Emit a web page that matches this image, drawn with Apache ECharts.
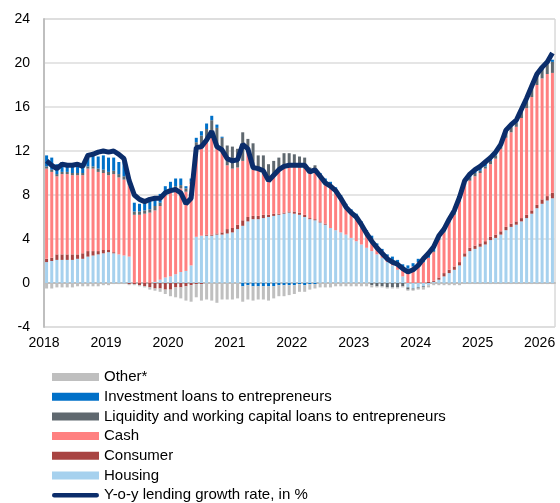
<!DOCTYPE html>
<html>
<head>
<meta charset="utf-8">
<script src="https://cdn.jsdelivr.net/npm/echarts@6/dist/echarts.min.js"></script>
<style>
  html, body { margin: 0; padding: 0; background: #fff; }
  #chart { width: 560px; height: 503px; }
</style>
</head>
<body>
<div id="chart"></div>
<script>
// monthly, 2018-01 .. 2026-03
var years = ['2018', '2019', '2020', '2021', '2022', '2023', '2024', '2025', '2026'];

var housing = [1.9, 2.0, 2.1, 2.1, 2.1, 2.1, 2.2, 2.2, 2.4, 2.5, 2.6, 2.7, 2.8, 2.7, 2.6, 2.5,
  2.4, 0, 0, 0, 0, 0.1, 0.3, 0.5, 0.6, 0.8, 1.0, 1.1, 1.6,
  4.2, 4.3, 4.3, 4.3, 4.4, 4.4, 4.5, 4.6, 4.9, 5.2, 5.6, 5.8, 5.8, 5.9, 6.0, 6.1, 6.2, 6.3, 6.4,
  6.3, 6.2, 6.0, 5.8, 5.7, 5.5, 5.3, 5.0, 4.8, 4.6, 4.4, 4.1, 3.8, 3.5, 3.2, 2.9, 2.6, 2.3, 1.9, 1.6, 1.2, 0.6, -0.4, -0.5, -0.4,
  -0.3, -0.2, 0.1, 0.3, 0.6, 0.9, 1.2, 1.6, 2.4, 2.9, 3.1, 3.3, 3.5, 3.9, 4.1, 4.4, 4.8, 5.1, 5.3, 5.6, 5.9, 6.3, 6.8, 7.2, 7.5, 7.7];

var consumer = [0.3, 0.3, 0.5, 0.5, 0.5, 0.5, 0.4, 0.5, 0.5, 0.4, 0.3, 0.3, 0.2, 0.1,
  0, 0, -0.1, -0.1, -0.2, -0.3, -0.4, -0.5, -0.5, -0.6, -0.6, -0.4, -0.4, -0.3, -0.2,
  -0.1, -0.1, 0.1, 0.1, 0.1, 0.2, 0.4, 0.4, 0.4, 0.5, 0.4, 0.3, 0.3, 0.3, 0.2, 0.2, 0.1, 0.1, 0.1,
  0.2, 0.2, 0.2, 0.1, 0.1, 0.1, 0.1, 0, 0, 0, 0, 0, 0, 0, 0, 0, 0, 0, 0, 0, 0, 0, 0, 0, 0,
  0, 0.1, 0.1, 0.2, 0.3, 0.3, 0.3, 0.3, 0.3, 0.3, 0.3, 0.3, 0.3, 0.3, 0.3, 0.3, 0.3, 0.3, 0.3, 0.3, 0.3, 0.3, 0.3, 0.4, 0.4, 0.5];

var cash = [8.2, 7.8, 7.1, 7.3, 7.3, 7.2, 7.2, 7.1, 7.5, 7.5, 7.2, 7.0, 6.8, 7.1, 7.0, 6.9, 6.5,
  6.2, 6.2, 6.3, 6.4, 6.5, 6.7, 7.5, 7.8, 7.8, 7.6, 7.2, 7.4,
  8.1, 8.2, 8.4, 8.8, 7.8, 7.3, 5.8, 5.4, 5.2, 5.4, 5.9, 4.2, 4.2, 3.9, 3.4, 3.4, 3.9, 4.1, 4.1,
  4.1, 4.1, 4.2, 4.1, 4.4, 4.0, 3.7, 3.7, 3.5, 3.0, 2.5, 2.3, 2.2, 1.8, 1.4, 1.1, 0.8, 0.6, 0.5, 0.5, 0.6, 0.8, 1.3, 1.5, 1.9,
  1.9, 2.2, 2.6, 3.4, 3.7, 4.3, 4.7, 5.5, 6.2, 6.1, 6.3, 6.4, 6.6, 6.6, 6.9, 7.5, 8.1, 8.3, 8.6, 9.1, 9.7, 10.3, 10.9, 11.0, 11.1, 10.9];

var liquidity = [0.2, 0.2, 0.2, 0.2, 0.2, 0.2, 0.2, 0.2, 0.2, 0.2, 0.3, 0.3, 0.3, 0.3, 0.3, 0.3, 0.2,
  0.3, 0.3, 0.3, 0.3, 0.4, 0.3, 0.3, 0.2, 0.2, 0.3, 0.3, 0.2,
  0.5, 0.9, 1.2, 1.6, 1.8, 1.3, 1.8, 2.0, 1.7, 2.6, 1.2, 2.4, 1.3, 1.5, 1.2, 1.4, 1.2, 1.3, 1.2,
  1.1, 1.0, 1.0, 0.5, 0.5, 0.2, 0.2, 0.2, 0.2, 0.2, 0.1, 0.1, 0.1, 0.1, 0, -0.2, -0.3, -0.3, -0.4, -0.4, -0.4, -0.3, -0.2, -0.1, -0.1,
  -0.1, 0, 0.1, 0.1, 0.1, 0.1, 0.2, 0.2, 0.2, 0.3, 0.3, 0.2, 0.2, 0.3, 0.3, 0.2, 0.5, 0.5, 0.4, 0.6, 0.7, 0.8, 0.8, 0.8, 0.9, 1.0];

var investment = [1.0, 1.1, 0.9, 0.9, 0.8, 0.7, 0.8, 0.8, 1.2, 1.0, 1.1, 1.3, 1.3, 1.2, 1.1, 1.3, 0.3,
  0.8, 0.7, 0.6, 0.9, 0.9, 0.8, 0.5, 0.6, 0.7, 0.6, 0.2, 0.3,
  0.4, 0.4, 0.5, 0.4, 0.3, 0.1, 0, 0, 0, -0.3, -0.2, -0.3, -0.3, -0.3, -0.3, -0.3, -0.2, -0.2, -0.2,
  -0.2, -0.1, -0.2, -0.1, -0.1, 0.2, 0.2, 0.3, 0.2, 0.2, 0.2, 0.2, 0.2, 0.2, 0.2, 0.3, 0.2, 0.2, 0.2, 0.3, 0.3, 0.3, 0.3, 0.3, 0.3,
  0.2, 0.3, 0.3, 0.2, 0.1, 0.1, 0.1, 0.1, 0.1, 0.2, 0.2, 0.3, 0.3, 0.2, 0.2, 0.1, 0.1, 0.1, 0.1, 0.1, 0.1, 0.1, 0.1, 0.1, 0.1, 0.2];

var other = [-0.5, -0.5, -0.4, -0.4, -0.4, -0.4, -0.3, -0.3, -0.3, -0.3, -0.3, -0.2, -0.2, -0.1, -0.1, -0.1, -0.1,
  -0.1, -0.1, -0.1, -0.2, -0.2, -0.3, -0.4, -0.6, -0.9, -1.0, -1.3, -1.5,
  -1.2, -1.5, -1.5, -1.6, -1.8, -1.5, -1.5, -1.5, -1.4, -1.4, -1.3, -1.3, -1.2, -1.2, -1.3, -1.1, -1.0, -1.0, -0.9,
  -0.8, -0.7, -0.6, -0.5, -0.4, -0.4, -0.4, -0.4, -0.3, -0.3, -0.3, -0.3, -0.3, -0.3, -0.3, -0.2, -0.1, -0.1, -0.1, -0.1, -0.1, -0.1, -0.1, -0.1, -0.1,
  -0.2, -0.2, -0.2, -0.2, -0.2, -0.2, -0.2, -0.2, -0.1, -0.1, -0.1, -0.1, -0.1, -0.1, -0.1, -0.1, -0.1, -0.1, -0.1, -0.1, -0.1, -0.1, -0.1, -0.1, -0.1, -0.1];

var growth = [11.1, 10.7, 10.4, 10.8, 10.7, 10.7, 10.8, 10.6, 11.6, 11.7, 11.9, 12.0, 11.9, 12.0, 11.7, 11.3, 9.3,
  8.0, 7.6, 7.4, 7.6, 7.7, 7.7, 8.2, 8.4, 8.5, 8.2, 7.2, 7.7,
  12.3, 12.4, 13.0, 13.8, 12.4, 12.1, 11.3, 11.1, 11.2, 12.6, 12.2, 10.5, 10.4, 10.2, 9.3, 9.8, 10.3, 10.6, 10.7,
  10.7, 10.7, 10.7, 10.1, 10.3, 9.7, 9.1, 8.8, 8.4, 7.7, 6.9, 6.4, 6.0, 5.3, 4.5, 3.8, 3.2, 2.7, 2.2, 1.9, 1.7, 1.3, 1.0, 1.2, 1.6,
  2.2, 2.7, 3.3, 4.3, 4.9, 5.8, 6.6, 7.8, 9.3, 9.9, 10.3, 10.6, 11.0, 11.4, 11.9, 12.6, 13.9, 14.4, 14.8, 15.8, 16.8, 17.9, 19.0, 19.6, 20.1, 20.9];

var names = ['Other*', 'Investment loans to entrepreneurs',
  'Liquidity and working capital loans to entrepreneurs', 'Cash', 'Consumer', 'Housing'];
var lineName = 'Y-o-y lending growth rate, in %';

var font = 'Liberation Sans, Arial, sans-serif';

// one category per month
var months = growth.map(function (v, i) {
  var m = i % 12 + 1;
  return years[Math.floor(i / 12)] + '-' + (m < 10 ? '0' + m : m);
});

function barSeries(name, arr, color) {
  return {
    name: name,
    type: 'bar',
    stack: 'total',
    barWidth: 3,
    data: arr,
    itemStyle: { color: color },
    emphasis: { disabled: true }
  };
}

var chart = echarts.init(document.getElementById('chart'));
var option = {
  animation: false,
  backgroundColor: '#fff',
  textStyle: { fontFamily: font },
  grid: {
    left: 44,
    right: 5,
    top: 19,
    bottom: 176,
    show: true,
    borderColor: '#c6c6c6',
    borderWidth: 1
  },
  legend: {
    orient: 'vertical',
    left: 52,
    top: 369.5,
    padding: 0,
    itemWidth: 47,
    itemHeight: 8,
    itemGap: 4.7,
    selectedMode: false,
    textStyle: { fontSize: 15, color: '#000', fontFamily: font, lineHeight: 15 },
    data: [
      { name: names[0], icon: 'rect' },
      { name: names[1], icon: 'rect' },
      { name: names[2], icon: 'rect' },
      { name: names[3], icon: 'rect' },
      { name: names[4], icon: 'rect' },
      { name: names[5], icon: 'rect' },
      {
        name: lineName,
        icon: 'path://M0 0h0.05v0.05h-0.05z M2.5 1.5 H49.5 A2.5 2.5 0 0 1 49.5 6.5 H2.5 A2.5 2.5 0 0 1 2.5 1.5 Z M52 8h-0.05v-0.05h0.05z'
      }
    ]
  },
  xAxis: {
    type: 'category',
    data: months,
    boundaryGap: true,
    splitLine: { show: false },
    axisLine: { lineStyle: { color: '#bfbfbf', width: 2 } },
    axisTick: {
      length: 5,
      interval: function (i) { return i % 12 === 0; },
      lineStyle: { color: '#bfbfbf', width: 1.5 }
    },
    axisLabel: {
      color: '#000',
      fontSize: 14,
      margin: 9,
      padding: [0, 5, 0, 0],
      interval: function (i) { return i % 12 === 0; },
      formatter: function (v) { return v.slice(0, 4); }
    }
  },
  yAxis: {
    type: 'value',
    min: -4,
    max: 24,
    interval: 4,
    axisLine: { show: true, lineStyle: { color: '#bfbfbf', width: 2 } },
    axisTick: { show: false },
    splitLine: { lineStyle: { color: '#dcdcdc', width: 1.5 } },
    axisLabel: { color: '#000', fontSize: 14, margin: 14 }
  },
  series: [
    barSeries(names[5], housing, '#a6d1ee'),
    barSeries(names[4], consumer, '#a84442'),
    barSeries(names[3], cash, '#ff8080'),
    barSeries(names[2], liquidity, '#5f686f'),
    barSeries(names[1], investment, '#0070c8'),
    barSeries(names[0], other, '#bfbfbf'),
    {
      name: lineName,
      type: 'line',
      data: growth,
      symbol: 'none',
      z: 10,
      lineStyle: { color: '#0b2d6b', width: 5 },
      itemStyle: { color: '#0b2d6b' },
      emphasis: { disabled: true }
    }
  ]
};
chart.setOption(option);
</script>
</body>
</html>
